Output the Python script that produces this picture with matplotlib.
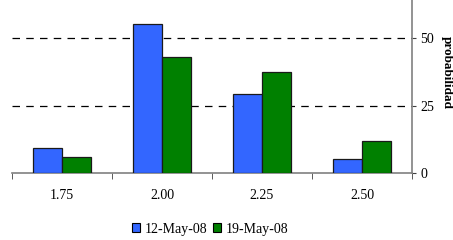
import matplotlib
matplotlib.use("Agg")
import matplotlib.pyplot as plt
import numpy as np
from matplotlib.patches import Patch

categories = ["1.75", "2.00", "2.25", "2.50"]
series_names = ["12-May-08", "19-May-08"]
may12 = [9.3, 55.4, 29.5, 5.2]
may19 = [6.0, 43.2, 37.4, 11.9]
yticks = [0, 25, 50]
colors = ["#3366FF", "#008000"]

plt.rcParams["font.family"] = ["Liberation Serif", "DejaVu Serif"]

fig = plt.figure(figsize=(4.53, 2.40), dpi=100)
ax = fig.add_axes([12/453, 1 - 173.3/240, 400/453, 173.3/240])

x = np.arange(len(categories))
w = 0.294
ax.bar(x - w/2, may12, width=w, color=colors[0], edgecolor="#1a1a1a", linewidth=0.9, zorder=3)
ax.bar(x + w/2, may19, width=w, color=colors[1], edgecolor="#1a1a1a", linewidth=0.9, zorder=3)

for g in yticks[1:]:
    ax.axhline(g, color="black", linewidth=0.9, dashes=(6, 5), zorder=1)

ax.set_xlim(-0.5, len(categories) - 0.5)
ax.set_ylim(0, 64.2)

for s in ["top", "left"]:
    ax.spines[s].set_visible(False)
for s in ["bottom", "right"]:
    ax.spines[s].set_color("#808080")
    ax.spines[s].set_linewidth(1.2)

ax.yaxis.tick_right()
ax.set_yticks(yticks)
ax.set_yticklabels([str(v) for v in yticks], fontsize=10)
ax.tick_params(axis="y", direction="out", length=3, color="#404040", pad=3)

ax.set_xticks(x)
ax.set_xticklabels(categories, fontsize=10)
ax.tick_params(axis="x", which="major", length=0, pad=11)
ax.set_xticks(np.arange(-0.5, len(categories)), minor=True)
ax.tick_params(axis="x", which="minor", direction="out", length=4, color="#404040")

fig.text(447/453, 1 - 72/240, "probabilidad", rotation=270, fontsize=9.5,
         fontweight="bold", ha="center", va="center")

handles = [Patch(facecolor=colors[0], edgecolor="black", linewidth=0.8),
           Patch(facecolor=colors[1], edgecolor="black", linewidth=0.8)]
fig.legend(handles, series_names, loc="center", bbox_to_anchor=(210/453, 1 - 229/240),
           ncol=2, frameon=False, fontsize=10, handlelength=0.6, handleheight=0.6,
           handletextpad=0.3, columnspacing=0.4)

fig.savefig("out.png", dpi=100)
